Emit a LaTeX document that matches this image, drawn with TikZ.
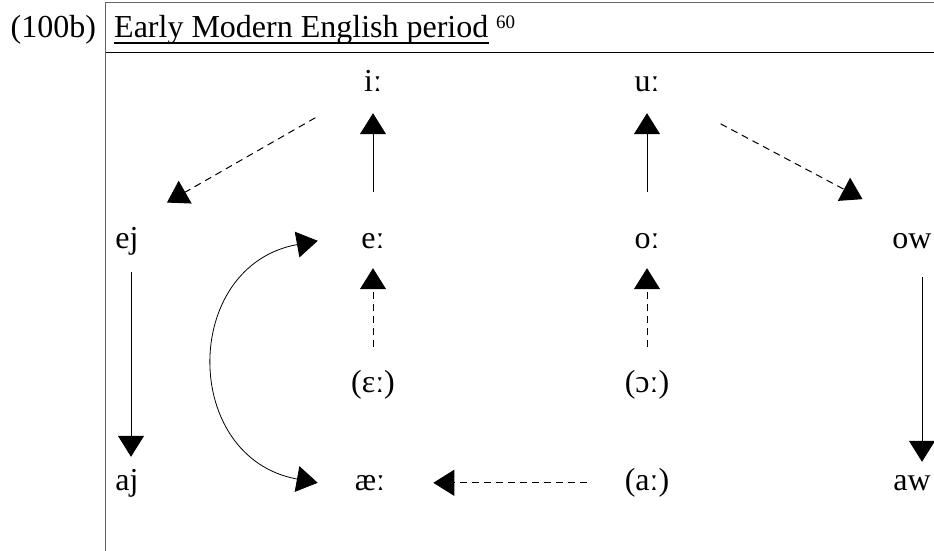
\documentclass[tikz,border=0pt]{standalone}
\usepackage{fontspec}
\setmainfont{Liberation Serif}
\usetikzlibrary{arrows.meta}

\begin{document}
\begin{tikzpicture}[x=1pt,y=1pt,yscale=-1,
  font=\fontsize{32}{38}\selectfont,
  >={Triangle[length=21pt,width=26pt]},
  vowel/.style={anchor=base,inner sep=0pt,text height=22.4pt,text depth=8pt},
  solidarrow/.style={line width=1pt,->},
  dasharrow/.style={line width=1pt,->,dash pattern=on 7pt off 5pt}]
\useasboundingbox (0,0) rectangle (934,551);

%Straight Lines
\draw [black!60,line width=1pt] (105,3) -- (934,3) ;
%Straight Lines
\draw [line width=1pt] (105,53) -- (934,53) ;
%Straight Lines
\draw [black!60,line width=1pt] (105,3) -- (105,551) ;

% Text Node
\node (ex) [anchor=base west,inner sep=0pt] at (10.5,38) {(100b)};
% Text Node
\node (title) [anchor=base west,inner sep=0pt] at (114,38) {Early Modern English period};
\draw [line width=2pt] (title.base west |- 0,43) -- (title.base east |- 0,43) ;
% Text Node
\node (fn) [anchor=base west,inner sep=0pt,font=\fontsize{19}{22}\selectfont] at (496,29) {60};

% Text Node
\node (ii) [vowel] at (373,92) {iː};
\node (uu) [vowel] at (647,92) {uː};
\node (ej) [vowel] at (127,248) {ej};
\node (ee) [vowel] at (373,248) {eː};
\node (oo) [vowel] at (647,248) {oː};
\node (ow) [vowel] at (912,248) {ow};
\node (eps) [vowel] at (373,392) {(ɛː)};
\node (opn) [vowel] at (647,392) {(ɔː)};
\node (aj) [vowel] at (127,490) {aj};
\node (ae) [vowel] at (370,490) {æː};
\node (aa) [vowel] at (647,490) {(aː)};
\node (aw) [vowel] at (912,490) {aw};

%Straight Lines
\draw [solidarrow,shorten <=33.6pt,shorten >=13pt] (ee.north) -- (ii.south) ;
\draw [solidarrow,shorten <=33.6pt,shorten >=13pt] (oo.north) -- (uu.south) ;
\draw [solidarrow,shorten <=16pt,shorten >=10.6pt] ([xshift=4pt]ej.south) -- ([xshift=4pt]aj.north) ;
\draw [solidarrow,shorten <=21pt,shorten >=5.6pt] ([xshift=10pt]ow.south) -- ([xshift=10pt]aw.north) ;
%Straight Lines
\draw [dasharrow,shorten <=56pt,shorten >=46pt] (ii) -- (ej.north) ;
\draw [dasharrow,shorten <=69pt,shorten >=56pt] (uu) -- (ow.north) ;
\draw [dasharrow,shorten <=22.6pt,shorten >=12pt] (eps.north) -- (ee.south) ;
\draw [dasharrow,shorten <=22.6pt,shorten >=12pt] (opn.north) -- (oo.south) ;
\draw [dasharrow,shorten <=37.8pt,shorten >=48pt] (aa.west) -- (ae.east) ;
%Curve Lines
\draw [line width=0.8pt,<->] ([xshift=-43.5pt]ee.west) .. controls +(-137,25) and +(-137,-25) .. ([xshift=-37pt]ae.west) ;
\end{tikzpicture}
\end{document}
